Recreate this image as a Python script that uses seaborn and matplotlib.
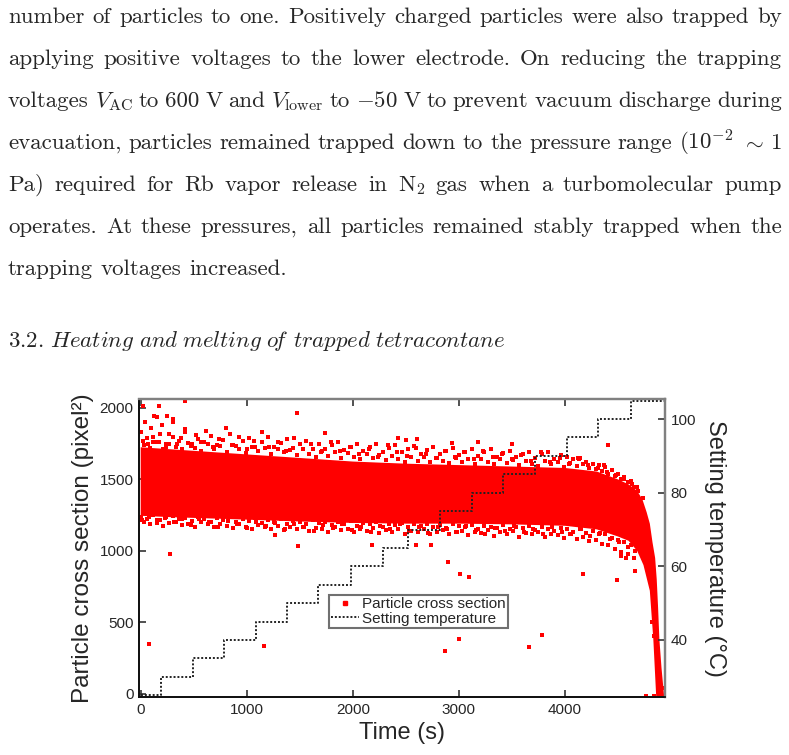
"""Trapped tetracontane particle: cross section vs time with the heater set point, page text above."""

from __future__ import annotations

import matplotlib

matplotlib.use("Agg")
import matplotlib.pyplot as plt
import pandas as pd
import seaborn as sns
from matplotlib.lines import Line2D

sns.set_style("ticks")
plt.rcParams["font.family"] = ["Liberation Sans", "DejaVu Sans"]
plt.rcParams["mathtext.fontset"] = "cm"

FIG_W, FIG_H = 789, 755
OUTPUT = "out.png"

# page text (LaTeX body, justified)
BODY_LINES = [
    "number of particles to one. Positively charged particles were also trapped by",
    "applying positive voltages to the lower electrode. On reducing the trapping",
    r"voltages $V_{\mathrm{AC}}$ to 600 V and $V_{\mathrm{lower}}$ to $-50$ V to prevent vacuum discharge during",
    r"evacuation, particles remained trapped down to the pressure range (10$^{-2}$ $\sim$ 1",
    r"Pa) required for Rb vapor release in N$_2$ gas when a turbomolecular pump",
    "operates. At these pressures, all particles remained stably trapped when the",
    "trapping voltages increased.",
]
HEADING_WORDS = ["3.2.", "Heating", "and", "melting", r"o\!f", "trapped", "tetracontane"]

# dense core of the particle cross section cloud (upper edge, lower edge)
UPPER_T = [0, 300, 600, 1000, 1500, 2000, 2500, 3000, 3500, 4000, 4300, 4500, 4600,
           4680, 4730, 4770, 4800, 4825, 4850, 4865, 4878, 4890, 4910, 4935]
UPPER_V = [1725, 1710, 1695, 1675, 1650, 1625, 1610, 1600, 1590, 1580, 1555, 1500, 1465,
           1420, 1360, 1270, 1190, 1060, 950, 800, 600, 380, 180, -20]
LOWER_T = [0, 300, 600, 1000, 1500, 2000, 2500, 3000, 3500, 4000, 4300, 4500, 4600,
           4680, 4740, 4800, 4833, 4860]
LOWER_V = [1245, 1235, 1228, 1218, 1205, 1195, 1190, 1190, 1185, 1175, 1150, 1100, 1070,
           1000, 900, 720, 380, -20]

# points just outside the upper edge of the core
EDGE_TOP_T = [30, 90, 150, 210, 270, 330, 390, 450, 510, 570, 630, 690, 750, 810, 870, 930,
              990, 1050, 1110, 1170, 1230, 1290, 1350, 1410, 1470, 1530, 1590, 1650, 1710,
              1770, 1830, 1890, 1950, 2010, 2070, 2130, 2190, 2250, 2310, 2370, 2430, 2490,
              2550, 2610, 2670, 2730, 2790, 2850, 2910, 2970, 3030, 3090, 3150, 3210, 3270,
              3330, 3390, 3450, 3510, 3570, 3630, 3690, 3750, 3810, 3870, 3930, 3990, 4050,
              4110, 4170, 4230, 4290, 4350, 4410, 4470, 4530, 4590, 4650]
EDGE_TOP_V = [1740, 1720, 1765, 1715, 1750, 1730, 1710, 1755, 1720, 1700,
              1745, 1715, 1735, 1695, 1740, 1710, 1685, 1730, 1700, 1720,
              1680, 1715, 1690, 1705, 1670, 1710, 1680, 1660, 1700, 1665,
              1690, 1650, 1685, 1660, 1640, 1680, 1650, 1670, 1635, 1665,
              1645, 1625, 1660, 1630, 1655, 1620, 1650, 1630, 1615, 1650,
              1625, 1640, 1610, 1645, 1620, 1605, 1640, 1615, 1635, 1600,
              1630, 1610, 1595, 1630, 1605, 1620, 1590, 1615, 1595, 1605,
              1580, 1570, 1560, 1540, 1525, 1500, 1480, 1445]
EDGE2_TOP_T = [60, 120, 180, 240, 300, 360, 420, 480, 540, 600, 660, 720, 780, 840, 900,
               960, 1020, 1080, 1140, 1200, 1260, 1320, 1380, 1440, 1500, 1560, 1620, 1680,
               1740, 1800, 1860, 1920, 1980, 2040, 2100, 2160, 2220, 2280, 2340, 2400, 2460,
               2520, 2580, 2640, 2700, 2760, 2820, 2880, 2940, 3000, 3060, 3120, 3180, 3240,
               3300, 3360, 3420, 3480, 3540, 3600, 3660, 3720, 3780, 3840, 3900, 3960, 4020,
               4080, 4140, 4200, 4260, 4320, 4380, 4440, 4500, 4560, 4620, 4680]
EDGE2_TOP_V = [1790, 1760, 1815, 1745, 1800, 1770, 1830, 1750, 1785, 1760,
               1805, 1740, 1775, 1820, 1735, 1770, 1790, 1730, 1760, 1800,
               1725, 1755, 1780, 1720, 1745, 1770, 1715, 1750, 1710, 1740,
               1765, 1705, 1730, 1750, 1700, 1725, 1745, 1695, 1720, 1740,
               1690, 1715, 1735, 1680, 1705, 1730, 1675, 1700, 1720, 1670,
               1695, 1715, 1665, 1690, 1710, 1660, 1685, 1700, 1655, 1680,
               1695, 1650, 1675, 1690, 1645, 1670, 1660, 1640, 1650, 1620,
               1610, 1600, 1585, 1565, 1540, 1520, 1490, 1450]

# points just outside the lower edge of the core
EDGE_LOW_T = [0, 60, 120, 180, 240, 300, 360, 420, 480, 540, 600, 660, 720, 780, 840, 900,
              960, 1020, 1080, 1140, 1200, 1260, 1320, 1380, 1440, 1500, 1560, 1620, 1680,
              1740, 1800, 1860, 1920, 1980, 2040, 2100, 2160, 2220, 2280, 2340, 2400, 2460,
              2520, 2580, 2640, 2700, 2760, 2820, 2880, 2940, 3000, 3060, 3120, 3180, 3240,
              3300, 3360, 3420, 3480, 3540, 3600, 3660, 3720, 3780, 3840, 3900, 3960, 4020,
              4080, 4140, 4200, 4260, 4320, 4380, 4440, 4500, 4560, 4620]
EDGE_LOW_V = [1240, 1225, 1250, 1215, 1235, 1245, 1220, 1230, 1210, 1240,
              1225, 1205, 1230, 1215, 1235, 1200, 1220, 1210, 1230, 1195,
              1215, 1205, 1225, 1190, 1210, 1200, 1185, 1215, 1195, 1205,
              1180, 1200, 1190, 1210, 1175, 1195, 1185, 1200, 1170, 1190,
              1180, 1195, 1165, 1185, 1175, 1190, 1170, 1180, 1160, 1185,
              1175, 1165, 1180, 1155, 1175, 1170, 1160, 1180, 1150, 1170,
              1160, 1175, 1145, 1165, 1155, 1140, 1160, 1150, 1135, 1155,
              1125, 1140, 1115, 1120, 1090, 1075, 1060, 1040]
EDGE2_LOW_T = [30, 90, 150, 210, 270, 330, 390, 450, 510, 570, 630, 690, 750, 810, 870, 930,
               990, 1050, 1110, 1170, 1230, 1290, 1350, 1410, 1470, 1530, 1590, 1650, 1710,
               1770, 1830, 1890, 1950, 2010, 2070, 2130, 2190, 2250, 2310, 2370, 2430, 2490,
               2550, 2610, 2670, 2730, 2790, 2850, 2910, 2970, 3030, 3090, 3150, 3210, 3270,
               3330, 3390, 3450, 3510, 3570, 3630, 3690, 3750, 3810, 3870, 3930, 3990, 4050,
               4110, 4170, 4230, 4290, 4350, 4410, 4470, 4530, 4590, 4650]
EDGE2_LOW_V = [1200, 1185, 1215, 1175, 1195, 1205, 1180, 1190, 1170, 1200,
               1185, 1165, 1190, 1175, 1160, 1185, 1170, 1150, 1180, 1165,
               1155, 1175, 1145, 1165, 1150, 1170, 1140, 1160, 1150, 1135,
               1165, 1145, 1155, 1130, 1150, 1140, 1160, 1125, 1145, 1135,
               1155, 1120, 1140, 1130, 1150, 1115, 1135, 1145, 1120, 1130,
               1140, 1110, 1135, 1125, 1145, 1105, 1130, 1120, 1140, 1100,
               1125, 1115, 1135, 1095, 1120, 1110, 1090, 1115, 1085, 1100,
               1070, 1075, 1050, 1040, 1015, 990, 975, 950]

# sparser points above the core
TOP_T = [5, 25, 45, 70, 95, 120, 150, 175, 205, 235, 265, 300, 340, 380, 420, 470, 520,
         570, 620, 680, 740, 800, 860, 930, 1000, 1070, 1140, 1210, 1290, 1370, 1450, 1530,
         1610, 1700, 1790, 1880, 1970, 2060, 2150, 2240, 2330, 2420, 2510, 2600, 2690, 2780,
         2870, 2960, 3050, 3140, 3230, 3320, 3410, 3500, 3590, 3680, 3770, 3860, 3950, 4040,
         4130, 4220, 4310, 4400, 4480, 4560, 4630, 4690, 4740]
TOP_V = [1830, 1770, 1900, 1745, 1860, 1800, 1940, 1760, 1880, 1730,
         1820, 1905, 1750, 1790, 1855, 1735, 1810, 1760, 1840, 1725,
         1780, 1860, 1740, 1800, 1715, 1770, 1830, 1725, 1760, 1700,
         1790, 1715, 1745, 1690, 1760, 1700, 1730, 1680, 1715, 1660,
         1740, 1690, 1665, 1720, 1680, 1650, 1700, 1660, 1690, 1640,
         1700, 1655, 1680, 1640, 1670, 1630, 1690, 1625, 1650, 1610,
         1640, 1600, 1580, 1550, 1530, 1500, 1470, 1420, 1370]

# sparser points below the core
BOTTOM_T = [15, 80, 150, 230, 310, 390, 470, 550, 640, 730, 820, 910, 1000, 1090, 1180,
            1270, 1360, 1450, 1540, 1630, 1720, 1810, 1900, 1990, 2080, 2170, 2260, 2350,
            2440, 2530, 2620, 2710, 2800, 2890, 2980, 3070, 3160, 3250, 3340, 3430, 3520,
            3610, 3700, 3790, 3880, 3970, 4060, 4150, 4240, 4330, 4420, 4510, 4590, 4660]
BOTTOM_V = [1215, 1240, 1195, 1230, 1205, 1225, 1180, 1220, 1200, 1170,
            1210, 1190, 1160, 1205, 1175, 1195, 1150, 1185, 1165, 1140,
            1180, 1160, 1190, 1145, 1170, 1130, 1175, 1155, 1185, 1140,
            1165, 1125, 1170, 1150, 1135, 1175, 1145, 1120, 1160, 1140,
            1175, 1130, 1150, 1115, 1165, 1135, 1120, 1150, 1105, 1125,
            1080, 1065, 1030, 1000]

# isolated outliers and the melting tail
STRAY_T = [24, 173, 418, 129, 245, 300, 277, 1476, 1266, 1480, 1737, 78, 1160, 2869, 2897,
           3006, 3095, 2998, 3658, 3786, 4167, 4490, 4660, 2183, 2596, 2735, 4409, 4576,
           4528, 4372, 4126, 3497, 3183, 2933, 2603, 2429, 2502, 4767, 4843,
           4700, 4760, 4790, 4815, 4840, 4858, 4874, 4890, 4905, 4820, 4870, 4835, 4925]
STRAY_V = [2016, 2012, 2051, 1946, 1942, 1920, 980, 1965, 1109, 1031, 1822, 347, 333, 300,
           919, 840, 813, 384, 328, 410, 834, 797, 855, 1043, 1038, 1038, 1740, 950,
           961, 1599, 1653, 1747, 1763, 1754, 1782, 1787, 1777, -15, -15,
           1250, 1060, 980, 820, 640, 470, 300, 150, 30, 500, 330, 400, 40]

# heater set point (step changes)
STEP_T = [0, 188, 490, 790, 1090, 1383, 1675, 1985, 2286, 2518, 2822, 3123, 3415, 3716,
          4017, 4309, 4619, 4943]
STEP_C = [25, 30, 35, 40, 45, 50, 55, 60, 65, 70, 75, 80, 85, 90, 95, 100, 105, 105]

BODY_SIZE = 16.5
TEXT_LEFT, TEXT_RIGHT = 8, 782
HEADING_RIGHT = 505
BASELINES = [23, 65, 107, 149, 191, 233, 275]
HEADING_BASELINE = 347


def place_words(fig, renderer, words, baseline, right=None, first_gap=1.0):
    """Lay out words on one baseline; stretch gaps so the line ends at `right`."""
    y = 1 - baseline / FIG_H
    texts = [fig.text(0, y, w, fontsize=BODY_SIZE, family="cmr10", va="baseline") for w in words]
    widths = [t.get_window_extent(renderer).width for t in texts]
    n_gaps = len(words) - 2 + first_gap
    if right is None:
        gap = BODY_SIZE * 100 / 72 * 0.333
    else:
        gap = (right - TEXT_LEFT - sum(widths)) / n_gaps
    x = TEXT_LEFT
    for i, (t, w) in enumerate(zip(texts, widths)):
        t.set_x(x / FIG_W)
        x += w + gap * (first_gap if i == 0 else 1.0)


def draw_text_block(fig) -> None:
    renderer = fig.canvas.get_renderer()
    for i, line in enumerate(BODY_LINES):
        last = i == len(BODY_LINES) - 1
        place_words(fig, renderer, line.split(" "), BASELINES[i], None if last else TEXT_RIGHT)

    heading = [r"$\mathit{" + w + "}$" for w in HEADING_WORDS]
    place_words(fig, renderer, heading, HEADING_BASELINE, HEADING_RIGHT, first_gap=1.8)


def draw_chart(fig) -> None:
    left, right, top, bottom = 139, 665, 399, 697
    ax = fig.add_axes([left / FIG_W, 1 - bottom / FIG_H, (right - left) / FIG_W, (bottom - top) / FIG_H])

    core_t = UPPER_T + LOWER_T[::-1]
    core_v = UPPER_V + LOWER_V[::-1]
    ax.fill(core_t, core_v, color="#ff0000", lw=0, zorder=1)

    pts = pd.DataFrame({
        "t": EDGE_TOP_T + EDGE2_TOP_T + EDGE_LOW_T + EDGE2_LOW_T + TOP_T + BOTTOM_T + STRAY_T,
        "v": EDGE_TOP_V + EDGE2_TOP_V + EDGE_LOW_V + EDGE2_LOW_V + TOP_V + BOTTOM_V + STRAY_V,
    })
    sns.scatterplot(data=pts, x="t", y="v", ax=ax, color="#ff0000", marker="s", s=5,
                    linewidth=0, legend=False, zorder=2)

    ax.set_xlim(-16, 4943)
    ax.set_ylim(-24, 2063)
    ax.set_xticks([0, 1000, 2000, 3000, 4000])
    ax.set_yticks([0, 500, 1000, 1500, 2000])
    ax.set_xlabel("Time (s)", fontsize=17, labelpad=4)
    ax.set_ylabel("Particle cross section (pixel²)", fontsize=17.5, labelpad=4)
    ax.tick_params(axis="both", direction="in", length=5, width=1.2, labelsize=11, pad=4,
                   color="#333333")
    ax.tick_params(axis="x", top=True)

    ax2 = ax.twinx()
    sns.lineplot(x=STEP_T, y=STEP_C, ax=ax2, drawstyle="steps-post", color="#222222",
                 linestyle=(0, (1, 1)), lw=1.4, estimator=None, sort=False, legend=False)
    ax2.set_ylim(24.5, 105.45)
    ax2.set_yticks([40, 60, 80, 100])
    ax2.set_ylabel("Setting temperature (°C)", fontsize=17, rotation=270, va="bottom", labelpad=6)
    ax2.tick_params(axis="y", direction="in", length=5, width=1.2, labelsize=11, pad=4,
                    color="#333333")

    for a in (ax, ax2):
        for side in ("left", "bottom"):
            a.spines[side].set_color("#111111")
            a.spines[side].set_linewidth(1.3)
        for side in ("top", "right"):
            a.spines[side].set_color("#808080")
            a.spines[side].set_linewidth(1.6)

    handles = [
        Line2D([], [], marker="s", color="#ff0000", ls="none", markersize=2.2),
        Line2D([], [], color="#222222", ls=(0, (1, 1)), lw=1.4),
    ]
    leg = ax2.legend(handles, ["Particle cross section", "Setting temperature"],
                     loc="upper left", bbox_to_anchor=(0.361, 0.343), frameon=True,
                     fancybox=False, framealpha=1, edgecolor="#707070", fontsize=11,
                     handlelength=1.8, handletextpad=0.2, borderpad=0.15,
                     labelspacing=0.05, borderaxespad=0)
    leg.get_frame().set_linewidth(1.5)


def main() -> None:
    fig = plt.figure(figsize=(FIG_W / 100, FIG_H / 100), dpi=100)
    draw_chart(fig)
    draw_text_block(fig)
    fig.savefig(OUTPUT, dpi=100)
    plt.close(fig)


if __name__ == "__main__":
    main()
